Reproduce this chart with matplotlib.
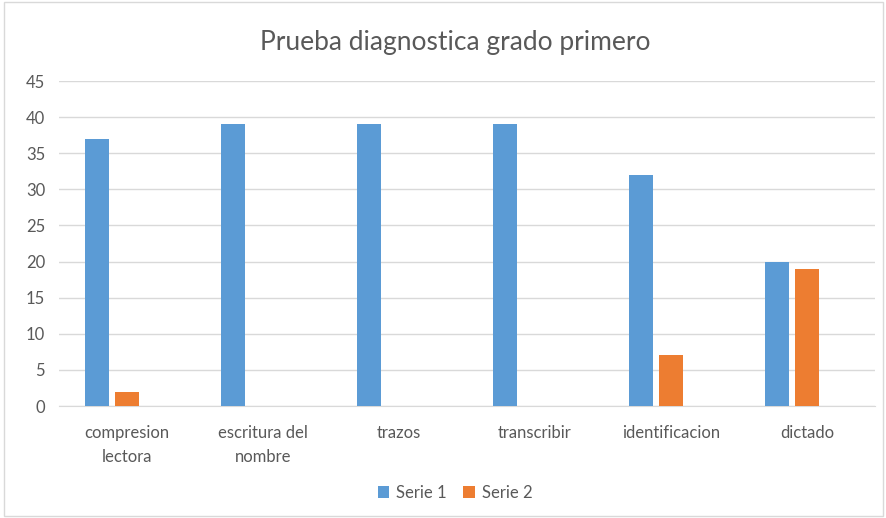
import matplotlib.pyplot as plt
import numpy as np
from matplotlib.patches import Rectangle

categories = ["compresion\nlectora", "escritura del\nnombre", "trazos", "transcribir", "identificacion", "dictado"]
serie_1 = [37, 39, 39, 39, 32, 20]
serie_2 = [2, 0, 0, 0, 7, 19]
y_ticks = [0, 5, 10, 15, 20, 25, 30, 35, 40, 45]

BLUE = "#5b9bd5"
ORANGE = "#ed7d31"
TEXT = "#595959"
GRID = "#d9d9d9"

plt.rcParams['font.family'] = ['Lato', 'DejaVu Sans']

fig = plt.figure(figsize=(8.87, 5.18), dpi=100)
fig.patches.append(Rectangle((0.004, 0.004), 0.992, 0.992, transform=fig.transFigure,
                             fill=False, edgecolor="#d9d9d9", linewidth=1))
ax = fig.add_axes([0.0665, 0.2162, 0.92, 0.6274])

x = np.arange(len(categories))
bar_w = 0.176
ax.bar(x - 0.22, serie_1, width=bar_w, color=BLUE, label="Serie 1", zorder=3)
ax.bar(x, serie_2, width=bar_w, color=ORANGE, label="Serie 2", zorder=3)

ax.set_xlim(-0.5, len(categories) - 0.5)
ax.set_ylim(0, 45)
ax.set_yticks(y_ticks)
ax.set_xticks(x)
ax.set_xticklabels(categories, linespacing=1.55)
ax.grid(axis="y", color=GRID, linewidth=1, zorder=0)
for s in ["top", "right", "left"]:
    ax.spines[s].set_visible(False)
ax.spines["bottom"].set_color(GRID)
ax.tick_params(axis="both", length=0, labelsize=12, colors=TEXT)
ax.tick_params(axis="x", pad=14)
ax.tick_params(axis="y", pad=10)

fig.text(0.513, 0.918, "Prueba diagnostica grado primero", ha="center", va="center",
         fontsize=19, color=TEXT)

fig.legend(loc="center", bbox_to_anchor=(0.513, 0.049), ncol=2, frameon=False,
           fontsize=12, labelcolor=TEXT, handlelength=0.7, handleheight=0.7,
           handletextpad=0.4, columnspacing=1.0)

fig.savefig("out.png", dpi=100)
